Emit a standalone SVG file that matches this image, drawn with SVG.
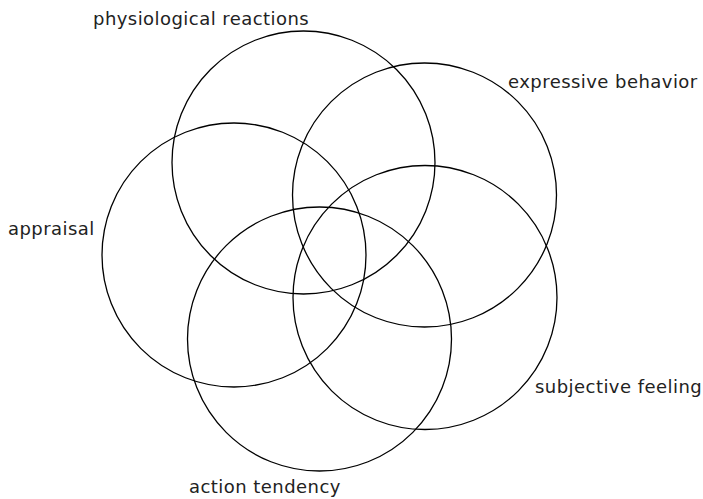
<svg xmlns="http://www.w3.org/2000/svg" width="703" height="499" viewBox="0 0 703 499">
<style>
.c{fill:none;stroke:#000;stroke-width:1.3}
.t{font-family:"DejaVu Sans",Verdana,sans-serif;font-size:18px;letter-spacing:0.45px;fill:#222}
</style>
<rect width="703" height="499" fill="#fff"/>
<g id="physiological"><circle class="c" cx="303.5" cy="162.5" r="131.5"/><text class="t" x="93" y="25">physiological reactions</text></g>
<g id="expressive"><circle class="c" cx="424.5" cy="195" r="132"/><text class="t" x="508" y="88">expressive behavior</text></g>
<g id="subjective"><circle class="c" cx="425" cy="297.5" r="132"/><text class="t" x="535" y="393">subjective feeling</text></g>
<g id="action"><circle class="c" cx="319.5" cy="339" r="132"/><text class="t" x="189" y="493">action tendency</text></g>
<g id="appraisal"><circle class="c" cx="234" cy="255" r="132"/><text class="t" x="8" y="235">appraisal</text></g>
<g id="connectors"/>
</svg>
